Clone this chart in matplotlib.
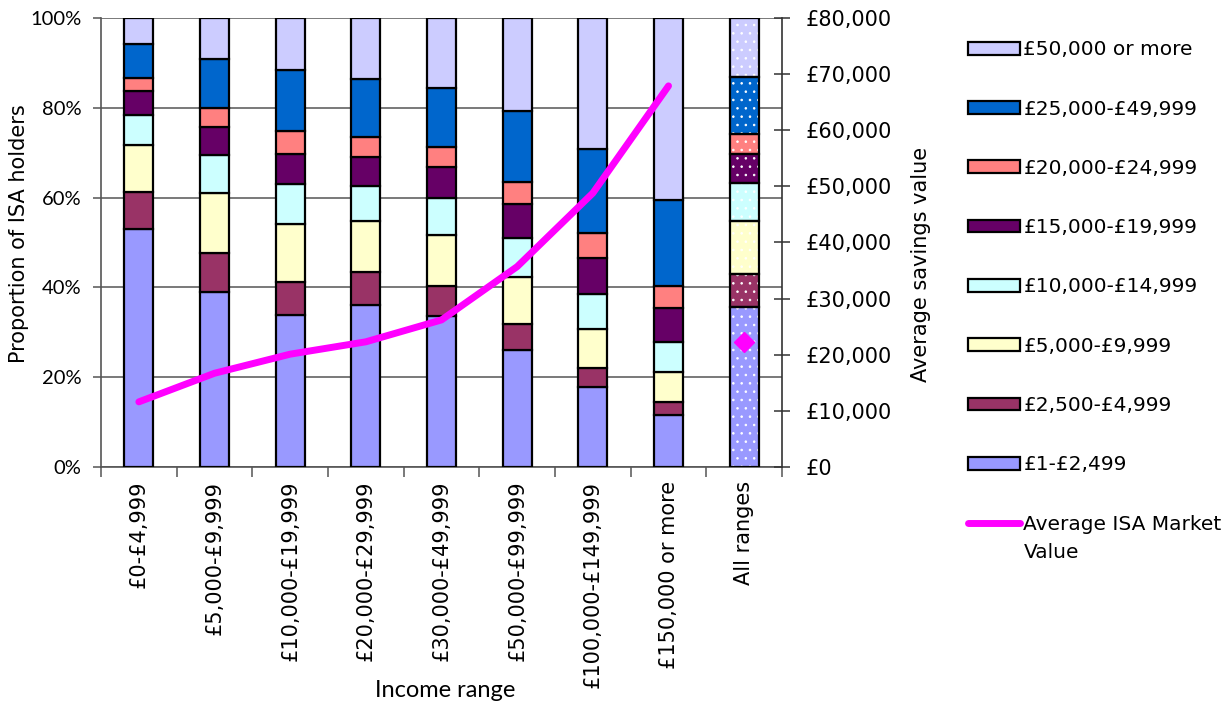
import numpy as np
import matplotlib
matplotlib.use('Agg')
import matplotlib.pyplot as plt
from matplotlib.patches import Patch
from matplotlib.lines import Line2D

# income ranges (x categories)
incomes = ['£0-£4,999', '£5,000-£9,999', '£10,000-£19,999', '£20,000-£29,999',
           '£30,000-£49,999', '£50,000-£99,999', '£100,000-£149,999',
           '£150,000 or more', 'All ranges']

# savings bands, bottom to top
bands = ['£1-£2,499', '£2,500-£4,999', '£5,000-£9,999', '£10,000-£14,999',
         '£15,000-£19,999', '£20,000-£24,999', '£25,000-£49,999', '£50,000 or more']
band_colors = ['#9999FF', '#993366', '#FFFFCC', '#CCFFFF',
               '#660066', '#FF8080', '#0066CC', '#CCCCFF']

# share of ISA holders in each band (%) per income range
s_1 = [53.1, 39.0, 33.8, 36.1, 33.6, 26.1, 17.7, 11.6, 35.6]
s_2500 = [8.1, 8.6, 7.5, 7.3, 6.8, 5.7, 4.4, 2.9, 7.3]
s_5000 = [10.6, 13.4, 12.8, 11.3, 11.3, 10.6, 8.6, 6.7, 11.9]
s_10000 = [6.5, 8.4, 9.0, 7.9, 8.1, 8.5, 7.8, 6.6, 8.4]
s_15000 = [5.5, 6.4, 6.7, 6.5, 7.1, 7.7, 8.1, 7.7, 6.5]
s_20000 = [2.9, 4.2, 5.0, 4.5, 4.4, 4.9, 5.6, 4.7, 4.5]
s_25000 = [7.4, 10.9, 13.6, 12.7, 13.0, 15.8, 18.6, 19.3, 12.7]
s_50000 = [5.9, 9.1, 11.6, 13.7, 15.7, 20.7, 29.2, 40.5, 13.1]

# average ISA market value (£) per income range, then all ranges
avg_value = [11600, 16700, 20100, 22300, 26200, 35700, 48800, 67900]
avg_all = 22300

shares = np.array([s_1, s_2500, s_5000, s_10000, s_15000, s_20000, s_25000, s_50000])

plt.rcParams['font.family'] = ['DejaVu Sans']
plt.rcParams['hatch.linewidth'] = 0.6
narrow = ['Lato', 'DejaVu Sans']

fig = plt.figure(figsize=(12.29, 7.02), dpi=100)
ax = fig.add_axes([0.0822, 0.3348, 0.5541, 0.6396])

x = np.arange(len(incomes))
w = 0.38
n = len(incomes) - 1
bottom = np.zeros(len(incomes))
for i in range(len(bands)):
    ax.bar(x[:n], shares[i][:n], w, bottom=bottom[:n], color=band_colors[i],
           edgecolor='black', linewidth=1.6, zorder=3)
    # all ranges bar: dotted fill
    ax.bar(x[n], shares[i][n], w, bottom=bottom[n], color=band_colors[i],
           edgecolor='white', hatch='..', linewidth=0, zorder=3)
    ax.bar(x[n], shares[i][n], w, bottom=bottom[n], fill=False,
           edgecolor='black', linewidth=1.6, zorder=4)
    bottom += shares[i]

ax.set_xlim(-0.5, 8.5)
ax.set_ylim(0, 100)
ax.set_yticks(range(0, 101, 20))
ax.set_yticklabels(['%d%%' % v for v in range(0, 101, 20)], family=narrow, fontsize=14.5)
ax.yaxis.grid(True, color='#555555', linewidth=1.1, zorder=0)
ax.set_axisbelow(True)
ax.set_xticks(x)
ax.set_xticklabels(incomes, rotation=90, fontsize=15)
ax.tick_params(axis='x', length=0, pad=10)
ax.set_xticks(np.arange(-0.5, 9, 1), minor=True)
ax.tick_params(axis='x', which='minor', length=7, color='#555555', width=1.1)
ax.tick_params(axis='y', length=6, color='#555555', width=1.1, pad=8)
for sp in ['left', 'bottom']:
    ax.spines[sp].set_color('#555555')
    ax.spines[sp].set_linewidth(1.2)
ax.spines['top'].set_visible(False)
ax.spines['right'].set_visible(False)
ax.set_ylabel('Proportion of ISA holders', fontsize=15)
ax.yaxis.set_label_coords(-0.106, 0.52)

ax2 = ax.twinx()
ax2.plot(x[:n], avg_value, color='#FF00FF', linewidth=5,
         solid_capstyle='round', solid_joinstyle='round', zorder=5)
ax2.plot(x[n], avg_all, marker='D', color='#FF00FF', markersize=10, linestyle='none')
ax2.set_ylim(0, 80000)
ax2.set_yticks(range(0, 80001, 10000))
ax2.set_yticklabels(['£0'] + ['£{:,}'.format(v) for v in range(10000, 80001, 10000)],
                    fontsize=15)
ax2.tick_params(axis='y', direction='inout', length=12, width=1.1, color='#333333', pad=11)
ax2.spines['right'].set_color('#333333')
ax2.spines['right'].set_linewidth(1.2)
for sp in ['left', 'top', 'bottom']:
    ax2.spines[sp].set_visible(False)
ax2.set_ylabel('Average savings value', fontsize=15)
ax2.yaxis.set_label_coords(1.19, 0.45)

fig.text(0.362, 0.002, 'Income range', fontsize=17, ha='center', va='bottom', family=narrow)

handles = [Patch(facecolor=band_colors[i], edgecolor='black', linewidth=1.6)
           for i in range(len(bands) - 1, -1, -1)]
labels = bands[::-1]
handles.append(Line2D([0], [0], color='#FF00FF', linewidth=5, solid_capstyle='round'))
labels.append('Average ISA Market')
fig.legend(handles, labels, loc='upper left', bbox_to_anchor=(0.781, 0.954),
           frameon=False, fontsize=14.5, handlelength=2.6, handleheight=0.6,
           handletextpad=0.15, labelspacing=2.0, borderaxespad=0)
# second line of the last legend label
fig.text(1024 / 1229, 1 - 553 / 702, 'Value', fontsize=14.5, va='center', ha='left')

fig.savefig('out.png', dpi=100)
